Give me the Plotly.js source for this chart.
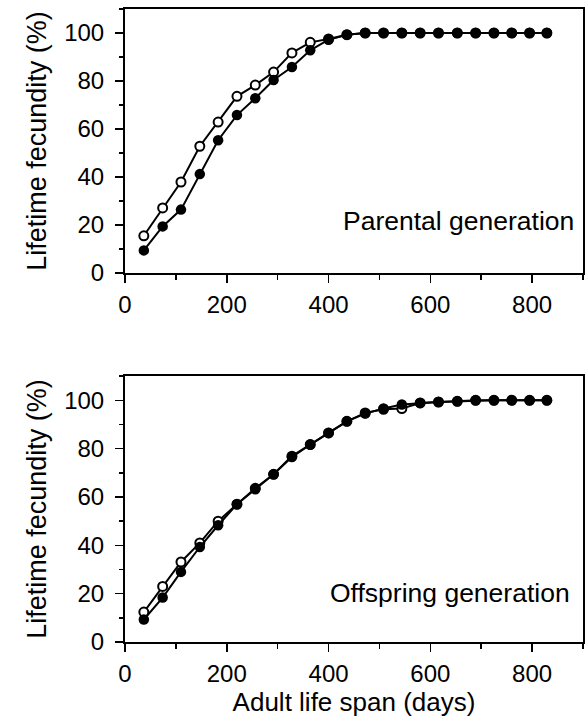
<!DOCTYPE html>
<html>
<head>
<meta charset="utf-8">
<script src="https://cdn.plot.ly/plotly-3.0.1.min.js"></script>
<style>html,body{margin:0;padding:0;background:#fff;}</style>
</head>
<body>
<div id="chart" style="width:585px;height:727px;"></div>
<script>
// Adult life span (days)
const days = [37, 74, 110, 147, 183, 220, 256, 292, 328, 364, 400, 436, 472, 508, 544, 580, 616, 653, 689, 725, 760, 795, 829];

// Parental generation, lifetime fecundity (%)
const parentalOpen   = [15.5, 27.1, 37.9, 52.8, 62.9, 73.6, 78.3, 83.7, 91.7, 96.1, 97.5, 99.3, 100, 100, 100, 100, 100, 100, 100, 100, 100, 100, 100];
const parentalFilled = [9.4, 19.4, 26.4, 41.2, 55.3, 65.8, 72.8, 80.4, 85.8, 92.8, 97.2, 99.3, 100, 100, 100, 100, 100, 100, 100, 100, 100, 100, 100];

// Offspring generation, lifetime fecundity (%)
const offspringOpen   = [12.4, 23.0, 33.1, 41.0, 50.0, 57.0, 63.6, 69.4, 76.9, 81.7, 86.5, 91.3, 94.8, 96.3, 96.6, 98.9, 99.3, 99.6, 100, 100, 100, 100, 100];
const offspringFilled = [9.3, 18.4, 29.0, 39.3, 48.3, 57.0, 63.2, 69.4, 76.5, 81.7, 86.5, 91.3, 94.5, 96.6, 98.3, 98.9, 99.3, 99.6, 100, 100, 100, 100, 100];

const panelLabels = ["Parental generation", "Offspring generation"];
const xTitle = "Adult life span (days)";
const yTitle = "Lifetime fecundity (%)";

const FONT = "Liberation Sans, Arial, Helvetica, sans-serif";

function openTrace(y, xa, ya) {
  return {x: days, y: y, xaxis: xa, yaxis: ya, type: "scatter", mode: "lines+markers",
    line: {color: "#000", width: 2},
    marker: {symbol: "circle", size: 9, color: "#fff", line: {color: "#000", width: 2}},
    showlegend: false, hoverinfo: "skip"};
}
function filledTrace(y, xa, ya) {
  return {x: days, y: y, xaxis: xa, yaxis: ya, type: "scatter", mode: "lines+markers",
    line: {color: "#000", width: 2},
    marker: {symbol: "circle", size: 10.5, color: "#000"},
    showlegend: false, hoverinfo: "skip"};
}

const data = [
  openTrace(parentalOpen, "x", "y"),
  filledTrace(parentalFilled, "x", "y"),
  openTrace(offspringOpen, "x2", "y2"),
  filledTrace(offspringFilled, "x2", "y2")
];

function xAxis(domainAnchor, withTitle) {
  const a = {
    anchor: domainAnchor, range: [0, 900], tick0: 0, dtick: 200,
    ticks: "outside", ticklen: 8, tickwidth: 1.5, tickcolor: "#000",
    minor: {dtick: 100, ticks: "outside", ticklen: 5, tickwidth: 1.5, tickcolor: "#000"},
    ticklabelstandoff: 1,
    showline: true, linewidth: 2, linecolor: "#000", mirror: true,
    showgrid: false, zeroline: false,
    tickfont: {family: FONT, size: 24, color: "#000"}
  };
  if (withTitle) a.title = {text: xTitle, font: {family: FONT, size: 26, color: "#000"}, standoff: 6};
  return a;
}
function yAxis(domain, anchor) {
  return {
    anchor: anchor, domain: domain, range: [0, 110], tick0: 0, dtick: 20,
    ticks: "outside", ticklen: 8, tickwidth: 1.5, tickcolor: "#000",
    minor: {dtick: 10, ticks: "outside", ticklen: 4, tickwidth: 1.5, tickcolor: "#000"},
    ticklabelstandoff: 6,
    showline: true, linewidth: 2, linecolor: "#000", mirror: true,
    showgrid: false, zeroline: false,
    tickfont: {family: FONT, size: 24, color: "#000"},
    title: {text: yTitle, font: {family: FONT, size: 27, color: "#000"}, standoff: 10}
  };
}

const layout = {
  width: 585, height: 727,
  margin: {l: 125, r: 2, t: 9, b: 85},
  paper_bgcolor: "#fff", plot_bgcolor: "#fff",
  showlegend: false,
  xaxis: xAxis("y", false),
  yaxis: yAxis([0.583, 1], "x"),
  xaxis2: xAxis("y2", true),
  yaxis2: yAxis([0, 0.42], "x2"),
  annotations: [
    {text: panelLabels[0], xref: "x domain", yref: "y domain", x: 0.985, y: 0.197,
     xanchor: "right", yanchor: "middle", showarrow: false,
     font: {family: FONT, size: 26.5, color: "#000"}},
    {text: panelLabels[1], xref: "x2 domain", yref: "y2 domain", x: 0.977, y: 0.186,
     xanchor: "right", yanchor: "middle", showarrow: false,
     font: {family: FONT, size: 26.5, color: "#000"}}
  ]
};

Plotly.newPlot("chart", data, layout, {staticPlot: true, displayModeBar: false});
</script>
</body>
</html>
